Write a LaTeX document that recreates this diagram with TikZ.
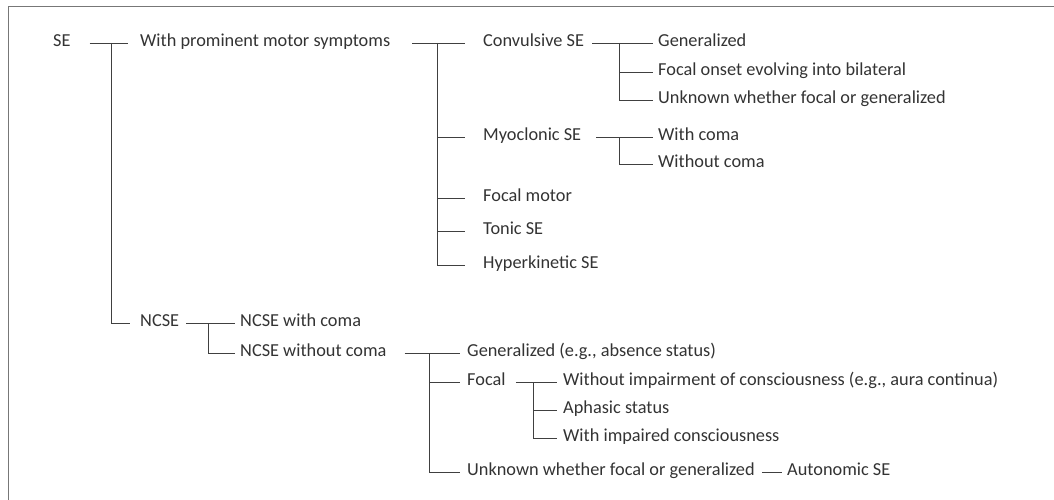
\documentclass[tikz,border=0pt]{standalone}
\usepackage{fontspec}
\setmainfont{Carlito}
\usepackage{tikz}
\usetikzlibrary{positioning}
\definecolor{texte}{HTML}{333333}
\definecolor{trait}{HTML}{404040}
\definecolor{cadre}{HTML}{777777}

\begin{document}
\begin{tikzpicture}[
    x=1pt,
    y=-1pt,
    terme/.style={
        anchor=west,
        inner sep=0pt,
        text height=0.64em,
        text depth=0pt,
        text=texte,
        font=\fontsize{18.3}{20}\selectfont
    },
    branche/.style={
        draw=trait,
        line width=0.85pt
    }
]
\useasboundingbox (0,0) rectangle (1054,500);

% Frame (top and left edges only)
\draw[cadre, line width=1.5pt] (1054,6.5) -- (8.5,6.5) -- (8.5,500);

% Level 0 and 1
\node[terme] (se) at (53,43) {SE};
\node[terme] (motor) at (140,43) {With prominent motor symptoms};
\node[terme] (ncse) at (140,323) {NCSE};

% Motor subtypes
\node[terme] (conv) at (483,43) {Convulsive SE};
\node[terme] (myo) at (483,137) {Myoclonic SE};
\node[terme] (focmot) at (483,198) {Focal motor};
\node[terme] (tonic) at (483,231) {Tonic SE};
\node[terme] (hyper) at (483,265) {Hyperkinetic SE};

% Convulsive SE
\node[terme] (cgen) at (658,43) {Generalized};
\node[terme] (cbil) at (658,72) {Focal onset evolving into bilateral};
\node[terme] (cunk) at (658,100) {Unknown whether focal or generalized};

% Myoclonic SE
\node[terme] (mwc) at (658,137) {With coma};
\node[terme] (mwoc) at (658,164) {Without coma};

% NCSE
\node[terme] (nwc) at (240,323) {NCSE with coma};
\node[terme] (nwoc) at (240,353) {NCSE without coma};
\node[terme] (ngen) at (467,353) {Generalized (e.g., absence status)};
\node[terme] (nfoc) at (467,382) {Focal};
\node[terme] (nunk) at (467,472) {Unknown whether focal or generalized};
\node[terme] (auton) at (787,472) {Autonomic SE};

% Focal NCSE
\node[terme] (fwoi) at (563,382) {Without impairment of consciousness (e.g., aura continua)};
\node[terme] (faph) at (563,410) {Aphasic status};
\node[terme] (fwi) at (563,438) {With impaired consciousness};

% Junctions
\coordinate (jse) at (111,43);
\coordinate (jmot) at (437,43);
\coordinate (jconv) at (619,43);
\coordinate (jmyo) at (619,137);
\coordinate (jncse) at (208,323);
\coordinate (jnwoc) at (429,353);
\coordinate (jfoc) at (533,382);

% SE
\draw[branche] ([xshift=19pt]se.east) -- ([xshift=-12pt]motor.west);
\draw[branche] (jse) |- ([xshift=-10pt]ncse.west);

% With prominent motor symptoms
\draw[branche] ([xshift=22pt]motor.east) -- ([xshift=-18pt]conv.west);
\draw[branche] (jmot) |- ([xshift=-18pt]hyper.west);
\foreach \n in {myo,focmot,tonic}
    \draw[branche] (jmot |- \n.west) -- ([xshift=-18pt]\n.west);

% Convulsive SE
\draw[branche] ([xshift=8pt]conv.east) -- ([xshift=-5pt]cgen.west);
\draw[branche] (jconv) |- ([xshift=-5pt]cunk.west);
\draw[branche] (jconv |- cbil.west) -- ([xshift=-5pt]cbil.west);

% Myoclonic SE
\draw[branche] ([xshift=15pt]myo.east) -- ([xshift=-5pt]mwc.west);
\draw[branche] (jmyo) |- ([xshift=-5pt]mwoc.west);

% NCSE
\draw[branche] ([xshift=7pt]ncse.east) -- ([xshift=-5pt]nwc.west);
\draw[branche] (jncse) |- ([xshift=-5pt]nwoc.west);

% NCSE without coma
\draw[branche] ([xshift=18pt]nwoc.east) -- ([xshift=-7pt]ngen.west);
\draw[branche] (jnwoc) |- ([xshift=-7pt]nunk.west);
\draw[branche] (jnwoc |- nfoc.west) -- ([xshift=-7pt]nfoc.west);
\draw[branche] ([xshift=7pt]nunk.east) -- ([xshift=-5pt]auton.west);

% Focal
\draw[branche] ([xshift=10pt]nfoc.east) -- ([xshift=-6pt]fwoi.west);
\draw[branche] (jfoc) |- ([xshift=-6pt]fwi.west);
\draw[branche] (jfoc |- faph.west) -- ([xshift=-6pt]faph.west);

\end{tikzpicture}
\end{document}
